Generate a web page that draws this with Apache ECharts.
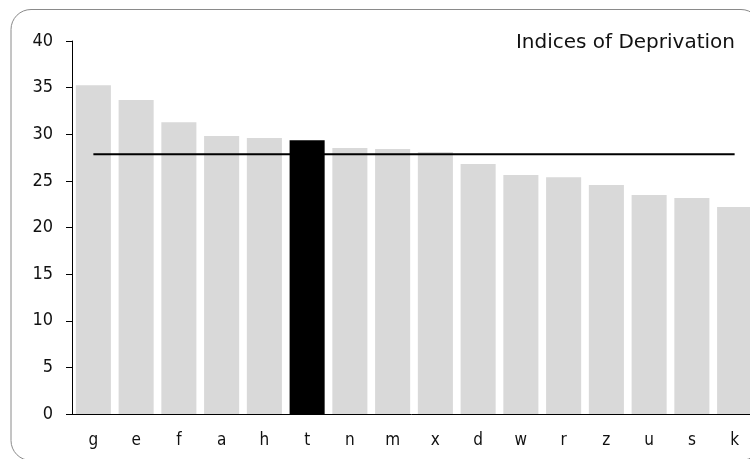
<!DOCTYPE html>
<html>
<head>
<meta charset="utf-8">
<script src="https://cdn.jsdelivr.net/npm/echarts@6/dist/echarts.min.js"></script>
<style>html,body{margin:0;padding:0;background:#fff}#c{width:750px;height:459px}</style>
</head>
<body>
<div id="c"></div>
<script>
const titleText = "Indices of Deprivation";
const categories = ["g","e","f","a","h","t","n","m","x","d","w","r","z","u","s","k"];
const values = [35.25, 33.67, 31.3, 29.8, 29.6, 29.35, 28.53, 28.42, 28.1, 26.8, 25.63, 25.4, 24.56, 23.48, 23.16, 22.2];
const highlight = "t";
const averageValue = 27.85;
const yTicks = [0, 5, 10, 15, 20, 25, 30, 35, 40];

const FONT = "'Liberation Sans Narrow', 'DejaVu Sans Condensed', 'Liberation Sans', sans-serif";
const chart = echarts.init(document.getElementById('c'), null, {renderer: 'canvas'});
chart.setOption({
  animation: false,
  backgroundColor: '#fff',
  graphic: [{
    type: 'rect', silent: true, z: -1,
    shape: {x: 11, y: 9.5, width: 750, height: 451, r: 20},
    style: {fill: 'none', stroke: '#8a8a8a', lineWidth: 1}
  }],
  title: {
    text: titleText, right: 10, top: 28,
    textStyle: {fontFamily: "'DejaVu Sans', sans-serif", fontSize: 20, fontWeight: 'normal', color: '#111'}
  },
  grid: {left: 72, top: 41, bottom: 45, width: 684, containLabel: false, outerBoundsMode: 'none'},
  xAxis: {
    type: 'category', data: categories,
    axisLine: {lineStyle: {color: '#000', width: 1}},
    axisTick: {show: false},
    axisLabel: {fontFamily: FONT, fontSize: 17, color: '#111', margin: 18}
  },
  yAxis: {
    type: 'value', min: yTicks[0], max: yTicks[yTicks.length - 1], interval: 5,
    splitLine: {show: false},
    axisLine: {show: true, lineStyle: {color: '#000', width: 1}},
    axisTick: {show: true, length: 6, lineStyle: {color: '#000'}},
    axisLabel: {fontFamily: FONT, fontSize: 18, color: '#111', margin: 19}
  },
  series: [{
    type: 'bar',
    data: values.map((v, i) => ({value: v, itemStyle: {color: categories[i] === highlight ? '#000' : '#d9d9d9'}})),
    barCategoryGap: '18%'
  }, {
    type: 'line',
    data: categories.map(() => averageValue),
    symbol: 'none',
    lineStyle: {color: '#000', width: 2},
    z: 5
  }]
});
</script>
</body>
</html>
